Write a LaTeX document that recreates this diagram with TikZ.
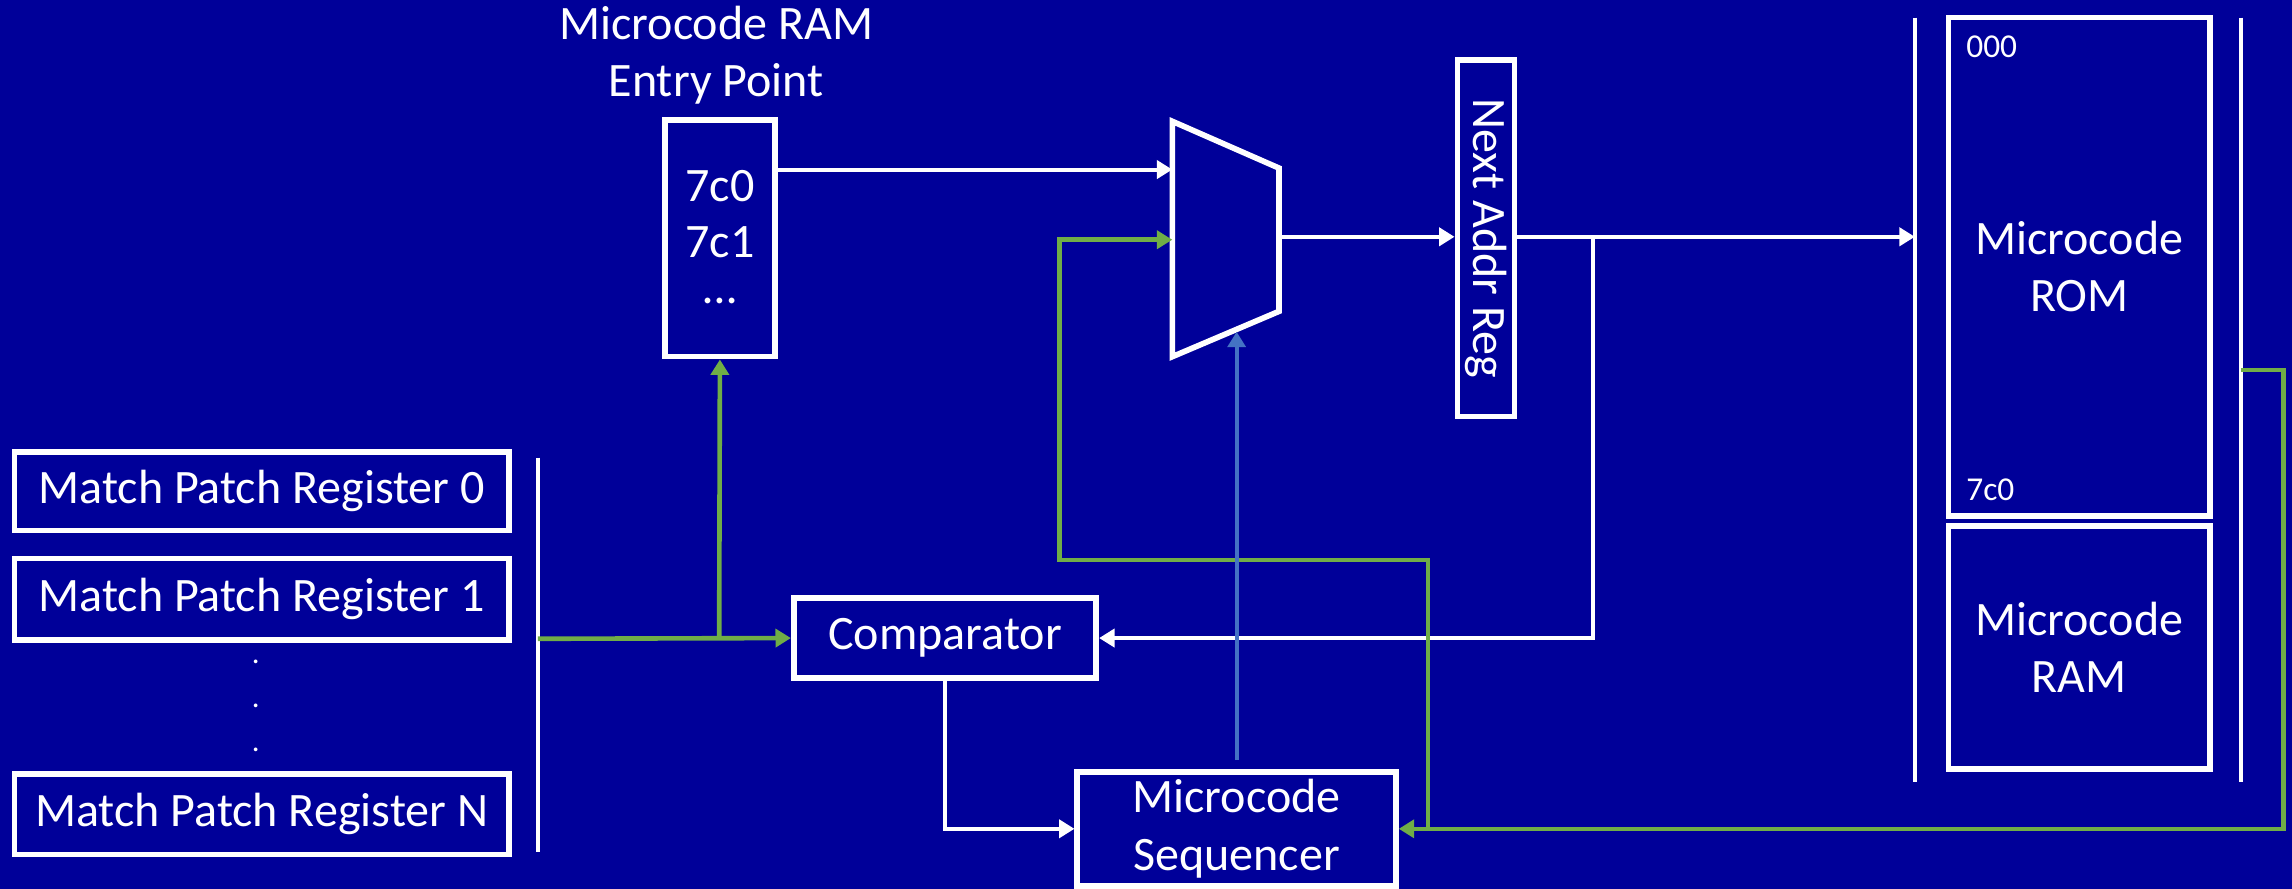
\documentclass[tikz,border=0pt]{standalone}
\usepackage{fontspec}
\setmainfont{Carlito}
\usepackage{graphicx}
\usetikzlibrary{arrows.meta}
\definecolor{slidebg}{HTML}{000099}
\definecolor{ctlgreen}{HTML}{70AD47}
\definecolor{selblue}{HTML}{4472C4}

\begin{document}
\begin{tikzpicture}[x=0.02cm, y=-0.02cm,
  every node/.style={text=white, font=\fontsize{18.7}{22.3}\selectfont},
  blk/.style={draw=white, line width=2.2pt, inner sep=0pt, align=center},
  wire/.style={white, line width=1.6pt, -{Triangle[width=7pt,length=6pt]}},
  ctlwire/.style={ctlgreen, line width=1.8pt, -{Triangle[width=7pt,length=6pt]}},
  selwire/.style={selblue, line width=1.5pt, -{Triangle[width=7pt,length=6pt]}},
  bar/.style={white, line width=1.6pt}]
  % Background
  \fill[slidebg] (0,0) rectangle (1568,608);
  \useasboundingbox (0,0) rectangle (1568,608);

  % Match patch registers
  \foreach \n/\y/\h in {0/336/54, 1/410/56, N/557/55} {
    \node[blk, minimum width=338*0.02cm, minimum height=\h*0.02cm] (reg\n) at (179,\y) {Match Patch Register \n};
  }
  \foreach \y in {453,483,513} {
    \node[font=\fontsize{12}{12}\selectfont] (dot\y) at (175,\y) {.};
  }
  \coordinate (regtop) at (368,313);
  \coordinate (regbot) at (368,583);
  \draw[bar] (regtop) -- (regbot);

  % Entry point table
  \node[align=center] (title) at (490,38) {Microcode RAM\\Entry Point};
  \node[blk, minimum width=75*0.02cm, minimum height=162*0.02cm] (entry) at (492.5,163) {};
  \node (e0) at (492.5,127) {7c0};
  \node (e1) at (492.5,166) {7c1};
  \node (e2) at (492.5,206) {\dots};

  % Mux
  \draw[white, line width=2.2pt] (802,83) -- (875,115) -- (875,213) -- (802,244) -- cycle;
  \coordinate (muxin1) at (802,116);
  \coordinate (muxin2) at (802,164);
  \coordinate (muxout) at (875,162);
  \coordinate (muxsel) at (846,227);

  % Next address register
  \node[blk, minimum width=39*0.02cm, minimum height=244*0.02cm] (nar) at (1016.5,163) {\rotatebox{-90}{Next Addr Reg}};

  % Comparator and sequencer
  \node[blk, minimum width=207*0.02cm, minimum height=55*0.02cm] (cmp) at (646.5,436.5) {Comparator};
  \node[blk, minimum width=218*0.02cm, minimum height=78*0.02cm] (seq) at (846,567) {Microcode\\Sequencer};

  % Microcode storage
  \coordinate (lbartop) at (1310,12);
  \coordinate (lbarbot) at (1310,535);
  \coordinate (rbartop) at (1533,12);
  \coordinate (rbarbot) at (1533,535);
  \draw[bar] (lbartop) -- (lbarbot);
  \draw[bar] (rbartop) -- (rbarbot);
  \node[blk, minimum width=179*0.02cm, minimum height=341*0.02cm] (rom) at (1422.5,182.5) {Microcode\\ROM};
  \node[blk, minimum width=179*0.02cm, minimum height=166*0.02cm] (ram) at (1422.5,443) {Microcode\\RAM};
  \node[anchor=west, font=\fontsize{13}{13}\selectfont] (a000) at (1339,32) {000};
  \node[anchor=west, font=\fontsize{13}{13}\selectfont] (a7c0) at (1339,335) {7c0};

  % Data path
  \coordinate (lbarin) at (1310,162);
  \coordinate (nartap) at (1090,162);
  \draw[wire] (entry.east |- muxin1) -- (muxin1);
  \draw[wire] (muxout) -- (nar.west |- muxout);
  \draw[wire] (nar.east |- lbarin) -- (lbarin);
  \draw[wire] (nartap) |- (cmp.east);
  \draw[wire] (cmp.south) |- (seq.west);

  % Control path
  \coordinate (regbus) at (368,437);
  \coordinate (regtap) at (492,437);
  \coordinate (rbarout) at (1533,253);
  \coordinate (seqtap) at (977,567);
  \coordinate (loopturn) at (725,383);
  \coordinate (selsrc) at (846,520);
  \draw[ctlwire] (regbus) -- (cmp.west);
  \draw[ctlwire] (regtap) -- (entry.south);
  \draw[ctlwire] (rbarout) -- (1562,253) |- (seq.east);
  \draw[ctlwire] (seqtap) |- (loopturn) |- (muxin2);
  \draw[selwire] (selsrc) -- (muxsel);
\end{tikzpicture}
\end{document}
